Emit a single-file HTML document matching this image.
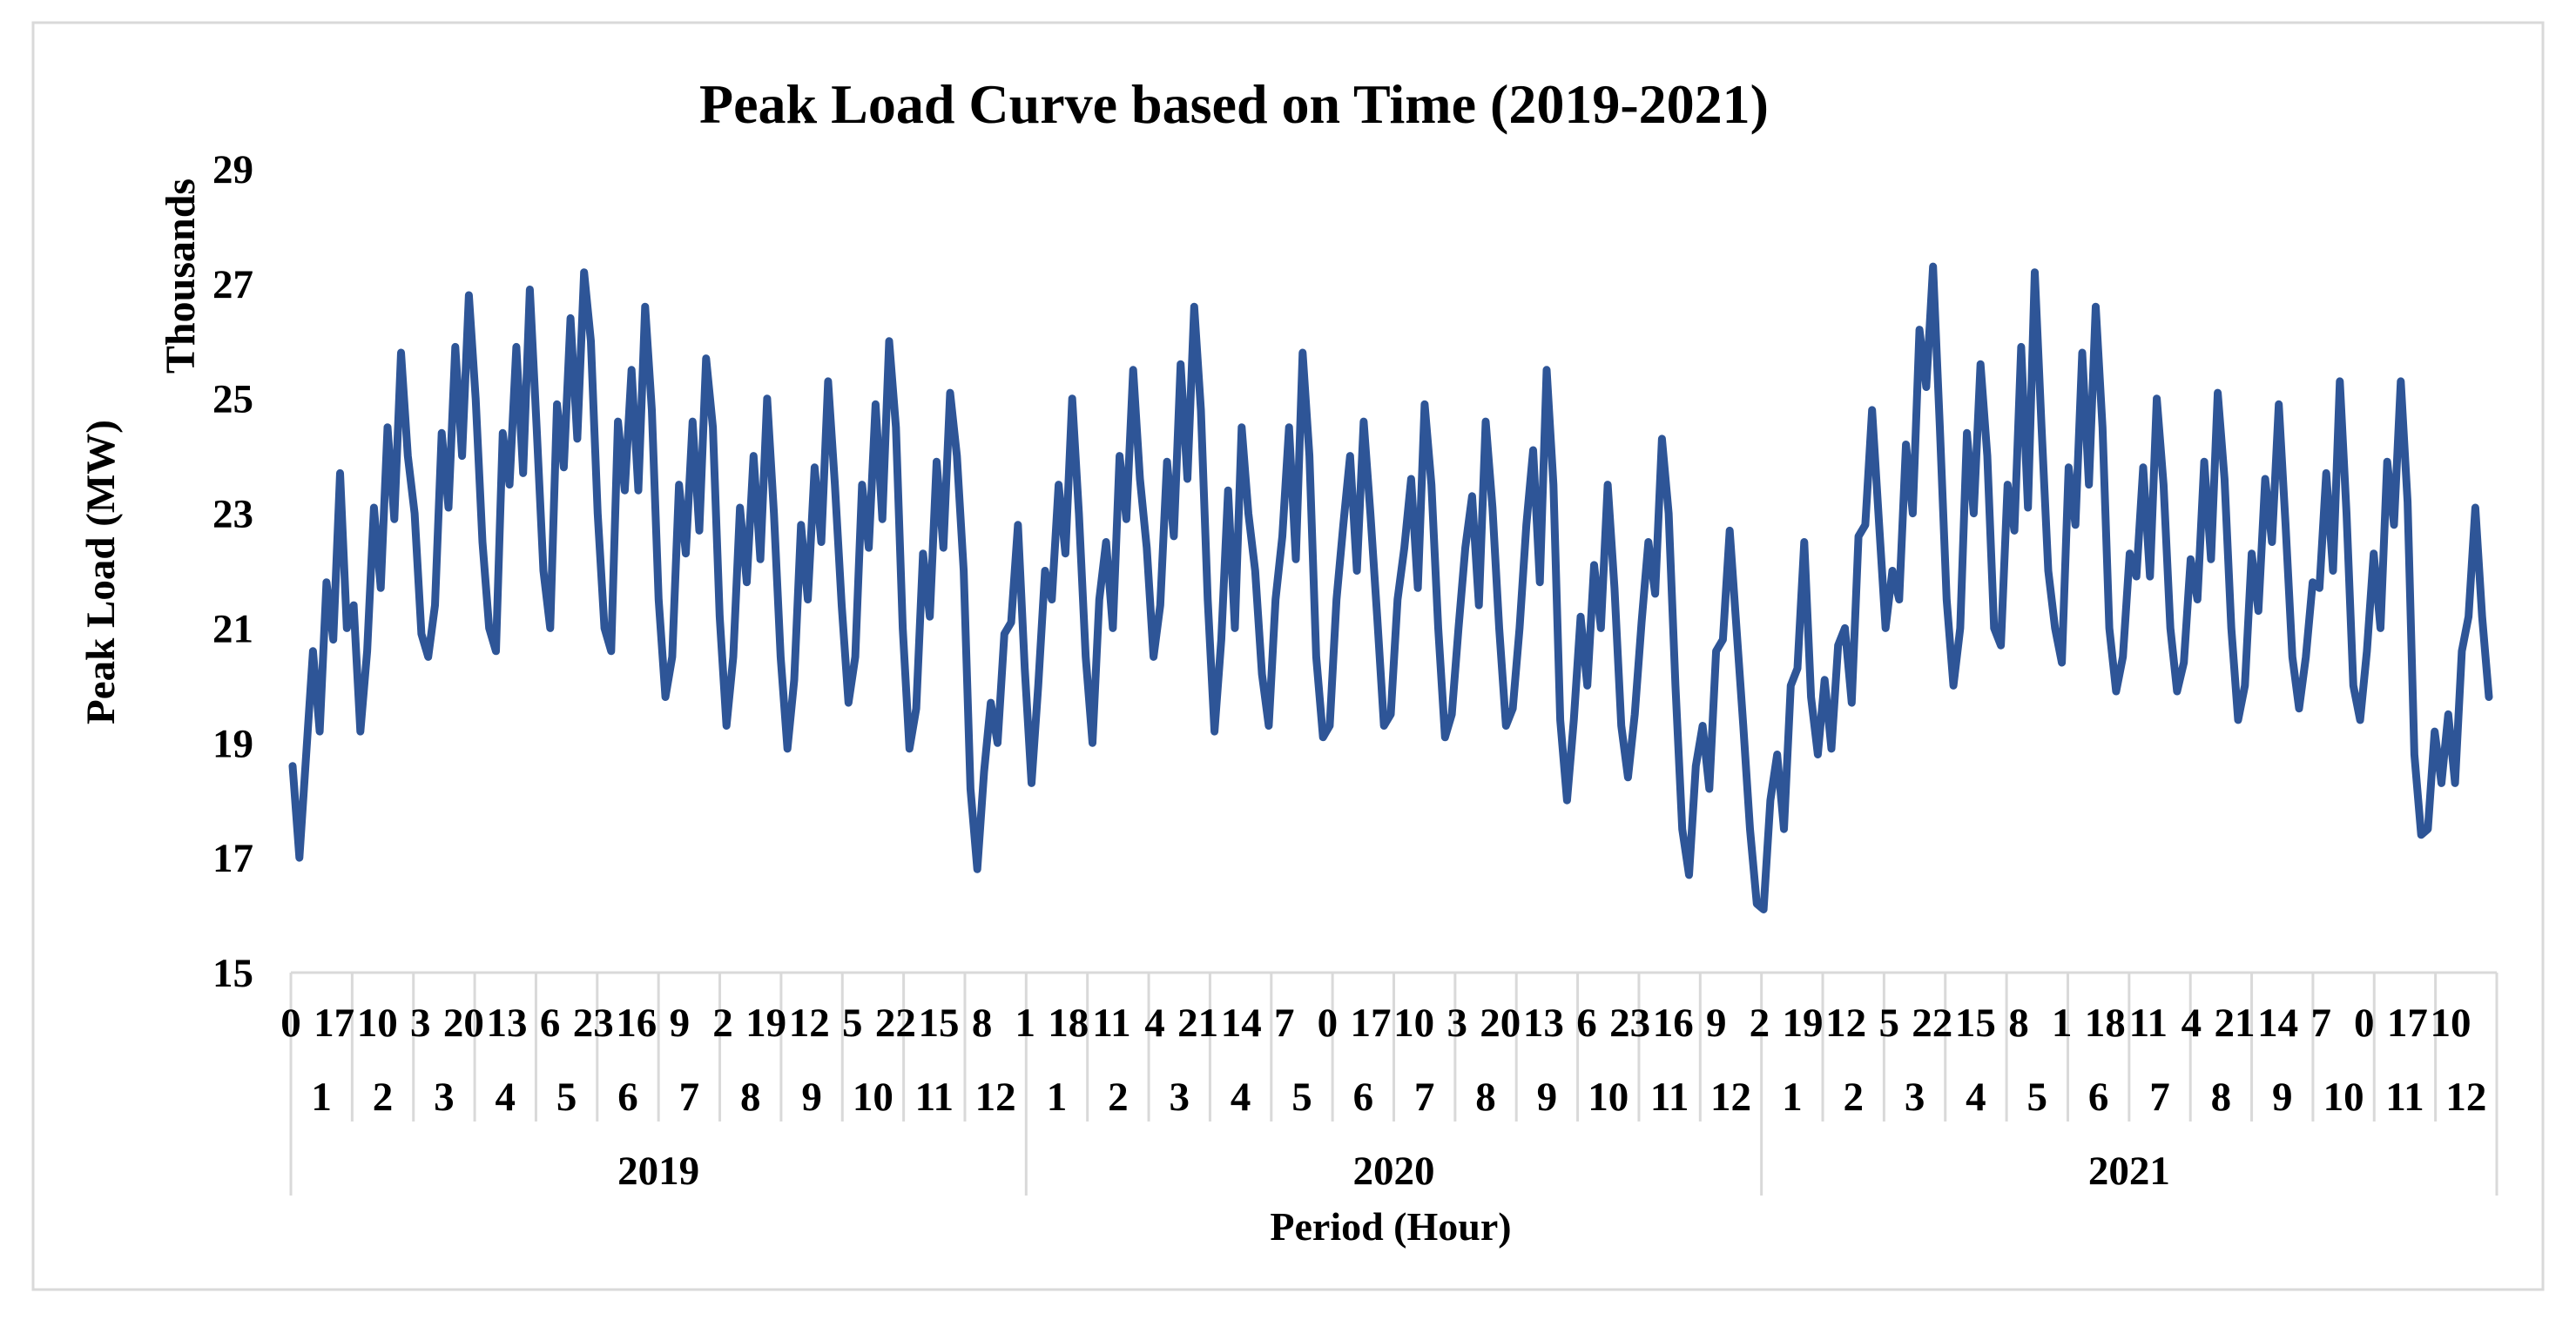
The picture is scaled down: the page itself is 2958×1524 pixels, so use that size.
<!DOCTYPE html>
<html><head><meta charset="utf-8"><style>
html,body{margin:0;padding:0;background:#fff;}
svg text{font-family:"Liberation Serif",serif;font-weight:bold;fill:#000;}
</style></head><body>
<svg id="chart" width="2958" height="1519" viewBox="0 0 2958 1519" xmlns="http://www.w3.org/2000/svg">
<rect x="38" y="26" width="2882" height="1455" fill="#fff" stroke="#d9d9d9" stroke-width="3"/>
<text x="1417" y="141" font-size="64" text-anchor="middle">Peak Load Curve based on Time (2019-2021)</text>
<text x="0" y="0" font-size="47" text-anchor="middle" transform="translate(131,657) rotate(-90)">Peak Load (MW)</text>
<text x="0" y="0" font-size="48" text-anchor="middle" transform="translate(223,317) rotate(-90)">Thousands</text>
<text x="1597" y="1424" font-size="46" text-anchor="middle">Period (Hour)</text>
<g id="yticks"></g><g id="xaxis"></g><g id="series"></g>
</svg>
<script>
const yTicks=[15,17,19,21,23,25,27,29];
const months=[1,2,3,4,5,6,7,8,9,10,11,12];
const years=['2019','2020','2021'];
const load=[
18.6,17.0,18.8,20.6,19.2,21.8,20.8,23.7,21.0,
21.4,19.2,20.6,23.1,21.7,24.5,22.9,25.8,24.0,
23.0,20.9,20.5,21.4,24.4,23.1,25.9,24.0,26.8,
25.0,22.5,21.0,20.6,24.4,23.5,25.9,23.7,26.9,
24.5,22.0,21.0,24.9,23.8,26.4,24.3,27.2,26.0,
23.0,21.0,20.6,24.6,23.4,25.5,23.4,26.6,24.8,
21.5,19.8,20.5,23.5,22.3,24.6,22.7,25.7,24.5,
21.2,19.3,20.5,23.1,21.8,24.0,22.2,25.0,23.0,
20.5,18.9,20.1,22.8,21.5,23.8,22.5,25.3,23.5,
21.4,19.7,20.5,23.5,22.4,24.9,22.9,26.0,24.5,
21.0,18.9,19.6,22.3,21.2,23.9,22.4,25.1,24.0,
22.0,18.2,16.8,18.5,19.7,19.0,20.9,21.1,22.8,
20.3,18.3,20.0,22.0,21.5,23.5,22.3,25.0,23.0,
20.5,19.0,21.5,22.5,21.0,24.0,22.9,25.5,23.6,
22.4,20.5,21.4,23.9,22.6,25.6,23.6,26.6,24.8,
21.5,19.2,20.8,23.4,21.0,24.5,23.0,22.0,20.2,
19.3,21.5,22.6,24.5,22.2,25.8,24.0,20.5,19.1,
19.3,21.5,22.8,24.0,22.0,24.6,23.0,21.2,19.3,
19.5,21.5,22.4,23.6,21.7,24.9,23.5,21.0,19.1,
19.5,21.0,22.4,23.3,21.4,24.6,23.1,21.0,19.3,
19.6,21.0,22.8,24.1,21.8,25.5,23.5,19.4,18.0,
19.4,21.2,20.0,22.1,21.0,23.5,21.7,19.3,18.4,
19.5,21.1,22.5,21.6,24.3,23.0,20.0,17.5,16.7,
18.6,19.3,18.2,20.6,20.8,22.7,21.0,19.3,17.5,
16.2,16.1,18.0,18.8,17.5,20.0,20.3,22.5,19.8,
18.8,20.1,18.9,20.7,21.0,19.7,22.6,22.8,24.8,
22.9,21.0,22.0,21.5,24.2,23.0,26.2,25.2,27.3,
24.5,21.5,20.0,21.0,24.4,23.0,25.6,24.0,21.0,
20.7,23.5,22.7,25.9,23.1,27.2,24.5,22.0,21.0,
20.4,23.8,22.8,25.8,23.5,26.6,24.5,21.0,19.9,
20.5,22.3,21.9,23.8,21.9,25.0,23.5,21.0,19.9,
20.4,22.2,21.5,23.9,22.2,25.1,23.6,21.0,19.4,
20.0,22.3,21.3,23.6,22.5,24.9,22.8,20.5,19.6,
20.5,21.8,21.7,23.7,22.0,25.3,23.0,20.0,19.4,
20.6,22.3,21.0,23.9,22.8,25.3,23.2,18.8,17.4,
17.5,19.2,18.3,19.5,18.3,20.6,21.2,23.1,21.2,19.8];
const NS='http://www.w3.org/2000/svg';
const X0=334,X1=2867,XEND=2858,YB=1117,YT=194,VMIN=15,VMAX=29;
function yScale(v){return YB-(v-VMIN)*(YB-YT)/(VMAX-VMIN);}
function xScale(i){return X0+2+i*(XEND-X0-2)/(load.length-1);}
function mk(tag,attrs,parent){const e=document.createElementNS(NS,tag);for(const k in attrs)e.setAttribute(k,attrs[k]);parent.appendChild(e);return e;}
const yg=document.getElementById('yticks');
yTicks.forEach(t=>{
  const e=mk('text',{x:291,y:yScale(t)+16,'font-size':47,'text-anchor':'end'},yg);
  
  
  e.textContent=t;
});
const xg=document.getElementById('xaxis');
const base=mk('line',{x1:X0,y1:YB,x2:X1,y2:YB,stroke:'#d9d9d9','stroke-width':3},xg);


const nM=years.length*months.length, mW=(X1-X0)/nM;
for(let m=0;m<=nM;m++){
  const isYear=(m%12===0);
  const l=mk('line',{x1:X0+m*mW,y1:YB,x2:X0+m*mW,y2:isYear?1373:1288,stroke:'#d9d9d9','stroke-width':3},xg);
  
  
}
years.forEach((yr,yi)=>{
  months.forEach((mo,mi)=>{
    const t=mk('text',{x:X0+(yi*12+mi+0.5)*mW,y:1275,'font-size':47,'text-anchor':'middle'},xg);
    
    
    t.textContent=mo;
  });
  const t=mk('text',{x:X0+(yi*12+6)*mW,y:1360,'font-size':47,'text-anchor':'middle'},xg);
  
  
  t.textContent=yr;
});
for(let k=0;k<51;k++){
  const h=((-7*k)%24+24)%24;
  const t=mk('text',{x:X0+k*49.6,y:1190,'font-size':47,'text-anchor':'middle'},xg);
  
  
  t.textContent=h;
}
const sg=document.getElementById('series');
let d='';
load.forEach((v,i)=>{d+=(i?'L':'M')+xScale(i).toFixed(1)+' '+yScale(v).toFixed(1);});
const p=mk('path',{d:d,fill:'none',stroke:'#2E5597','stroke-width':9,'stroke-linejoin':'round','stroke-linecap':'round'},sg);


</script>
</body></html>
